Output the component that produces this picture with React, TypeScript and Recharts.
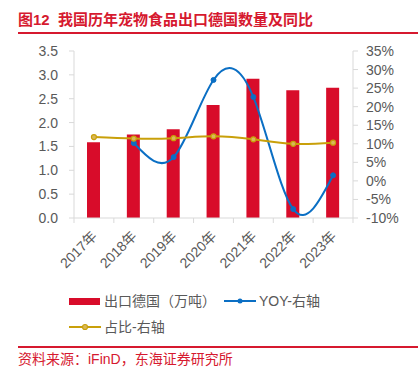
import React from 'react';
import { ComposedChart, Bar, Line, XAxis, YAxis } from 'recharts';

const categories = ['2017年', '2018年', '2019年', '2020年', '2021年', '2022年', '2023年'];
const exportVolume = [1.59, 1.75, 1.86, 2.37, 2.92, 2.68, 2.73];
const yoy = [null, 10.2, 6.4, 27.2, 22.6, -7.6, 1.5];
const share = [11.8, 11.4, 11.5, 12.0, 11.2, 10.0, 10.3];
const leftTicks = [0, 0.5, 1, 1.5, 2, 2.5, 3, 3.5];
const rightTicks = [-10, -5, 0, 5, 10, 15, 20, 25, 30, 35];

const data = categories.map((name, i) => ({
    x: i + 0.5,
    name,
    volume: exportVolume[i],
    yoy: yoy[i],
    share: share[i],
}));

const edgeTicks = categories.map((_, i) => i).concat(categories.length);

const W = 418;
const LEFT_W = 74;
const RIGHT_W = 65;
const HALF_BAND = (W - LEFT_W - RIGHT_W) / categories.length / 2;

const RED = '#d80c2a';
const BLUE = '#0b6fc4';
const GOLD = '#c9a00a';
const GRAY = '#595959';
const AXIS = '#d9d9d9';
const FONT = '"Liberation Sans", Arial, "Noto Sans CJK SC", sans-serif';

const XTick = (props: any) => {
    const { x, y, payload } = props;
    const label = categories[payload.value];
    if (!label) return null;
    const cx = x + HALF_BAND + 4;
    const cy = y + 12;
    return (
        <text x={cx} y={cy} transform={`rotate(-45, ${cx}, ${cy})`} textAnchor="end" fontSize={14} fill={GRAY} fontFamily={FONT}>
            {label}
        </text>
    );
};

const App = () => {
    return (
        <div style={{ position: 'absolute', left: 0, top: 0, width: 418, height: 367, background: '#fff', fontFamily: FONT }}>
            <div style={{ position: 'absolute', left: 18, top: 12, fontSize: 15, lineHeight: '16px', fontWeight: 'bold', color: '#d6192f', whiteSpace: 'nowrap' }}>
                图12&nbsp;&nbsp;我国历年宠物食品出口德国数量及同比
            </div>
            <div style={{ position: 'absolute', left: 18, right: 0, top: 32, height: 2, background: '#d6192f' }} />

            <div style={{ position: 'absolute', left: 0, top: 0 }}>
                <ComposedChart width={W} height={290} data={data} margin={{ top: 51, right: 0, bottom: 0, left: 0 }}>
                    <XAxis
                        dataKey="x"
                        type="number"
                        domain={[0, categories.length]}
                        ticks={edgeTicks}
                        interval={0}
                        height={72}
                        axisLine={{ stroke: AXIS }}
                        tickLine={{ stroke: AXIS }}
                        tickSize={5}
                        tick={<XTick />}
                    />
                    <YAxis
                        yAxisId="left"
                        domain={[0, 3.5]}
                        ticks={leftTicks}
                        interval={0}
                        width={LEFT_W}
                        axisLine={{ stroke: AXIS }}
                        tickLine={{ stroke: AXIS }}
                        tickSize={5}
                        tickMargin={11}
                        tickFormatter={(v: number) => v.toFixed(1)}
                        tick={{ fontSize: 14, fill: GRAY, fontFamily: FONT }}
                    />
                    <YAxis
                        yAxisId="right"
                        orientation="right"
                        domain={[-10, 35]}
                        ticks={rightTicks}
                        interval={0}
                        width={RIGHT_W}
                        axisLine={{ stroke: AXIS }}
                        tickLine={{ stroke: AXIS }}
                        tickSize={5}
                        tickMargin={8}
                        tickFormatter={(v: number) => `${v}%`}
                        tick={{ fontSize: 14, fill: GRAY, fontFamily: FONT }}
                    />
                    <Bar yAxisId="left" dataKey="volume" fill={RED} barSize={13} isAnimationActive={false} />
                    <Line
                        yAxisId="right"
                        dataKey="yoy"
                        type="natural"
                        stroke={BLUE}
                        strokeWidth={2}
                        dot={{ r: 2.5, fill: BLUE, stroke: BLUE, strokeWidth: 1 }}
                        isAnimationActive={false}
                    />
                    <Line
                        yAxisId="right"
                        dataKey="share"
                        type="natural"
                        stroke={GOLD}
                        strokeWidth={2}
                        dot={{ r: 2.5, fill: '#d9b85a', stroke: GOLD, strokeWidth: 1.2 }}
                        isAnimationActive={false}
                    />
                </ComposedChart>
            </div>

            <div style={{ position: 'absolute', left: 69, top: 298, width: 31, height: 7, background: RED }} />
            <div style={{ position: 'absolute', left: 104, top: 292, fontSize: 14, lineHeight: '18px', color: GRAY, whiteSpace: 'nowrap' }}>出口德国（万吨）</div>
            <svg style={{ position: 'absolute', left: 224, top: 296 }} width={32} height={10}>
                <line x1={0} y1={5} x2={32} y2={5} stroke={BLUE} strokeWidth={2} />
                <circle cx={16} cy={5} r={2.5} fill={BLUE} />
            </svg>
            <div style={{ position: 'absolute', left: 259, top: 292, fontSize: 14, lineHeight: '18px', color: GRAY, whiteSpace: 'nowrap' }}>YOY-右轴</div>
            <svg style={{ position: 'absolute', left: 69, top: 322 }} width={32} height={10}>
                <line x1={0} y1={5} x2={32} y2={5} stroke={GOLD} strokeWidth={2} />
                <circle cx={16} cy={5} r={2.5} fill="#d9b85a" stroke={GOLD} strokeWidth={1.2} />
            </svg>
            <div style={{ position: 'absolute', left: 104, top: 318, fontSize: 14, lineHeight: '18px', color: GRAY, whiteSpace: 'nowrap' }}>占比-右轴</div>

            <div style={{ position: 'absolute', left: 18, right: 0, top: 346, height: 1.5, background: '#d6192f' }} />
            <div style={{ position: 'absolute', left: 18, top: 351, fontSize: 14, lineHeight: '16px', color: '#d6192f', whiteSpace: 'nowrap' }}>
                资料来源：iFinD，东海证券研究所
            </div>
        </div>
    );
};

export default App;
